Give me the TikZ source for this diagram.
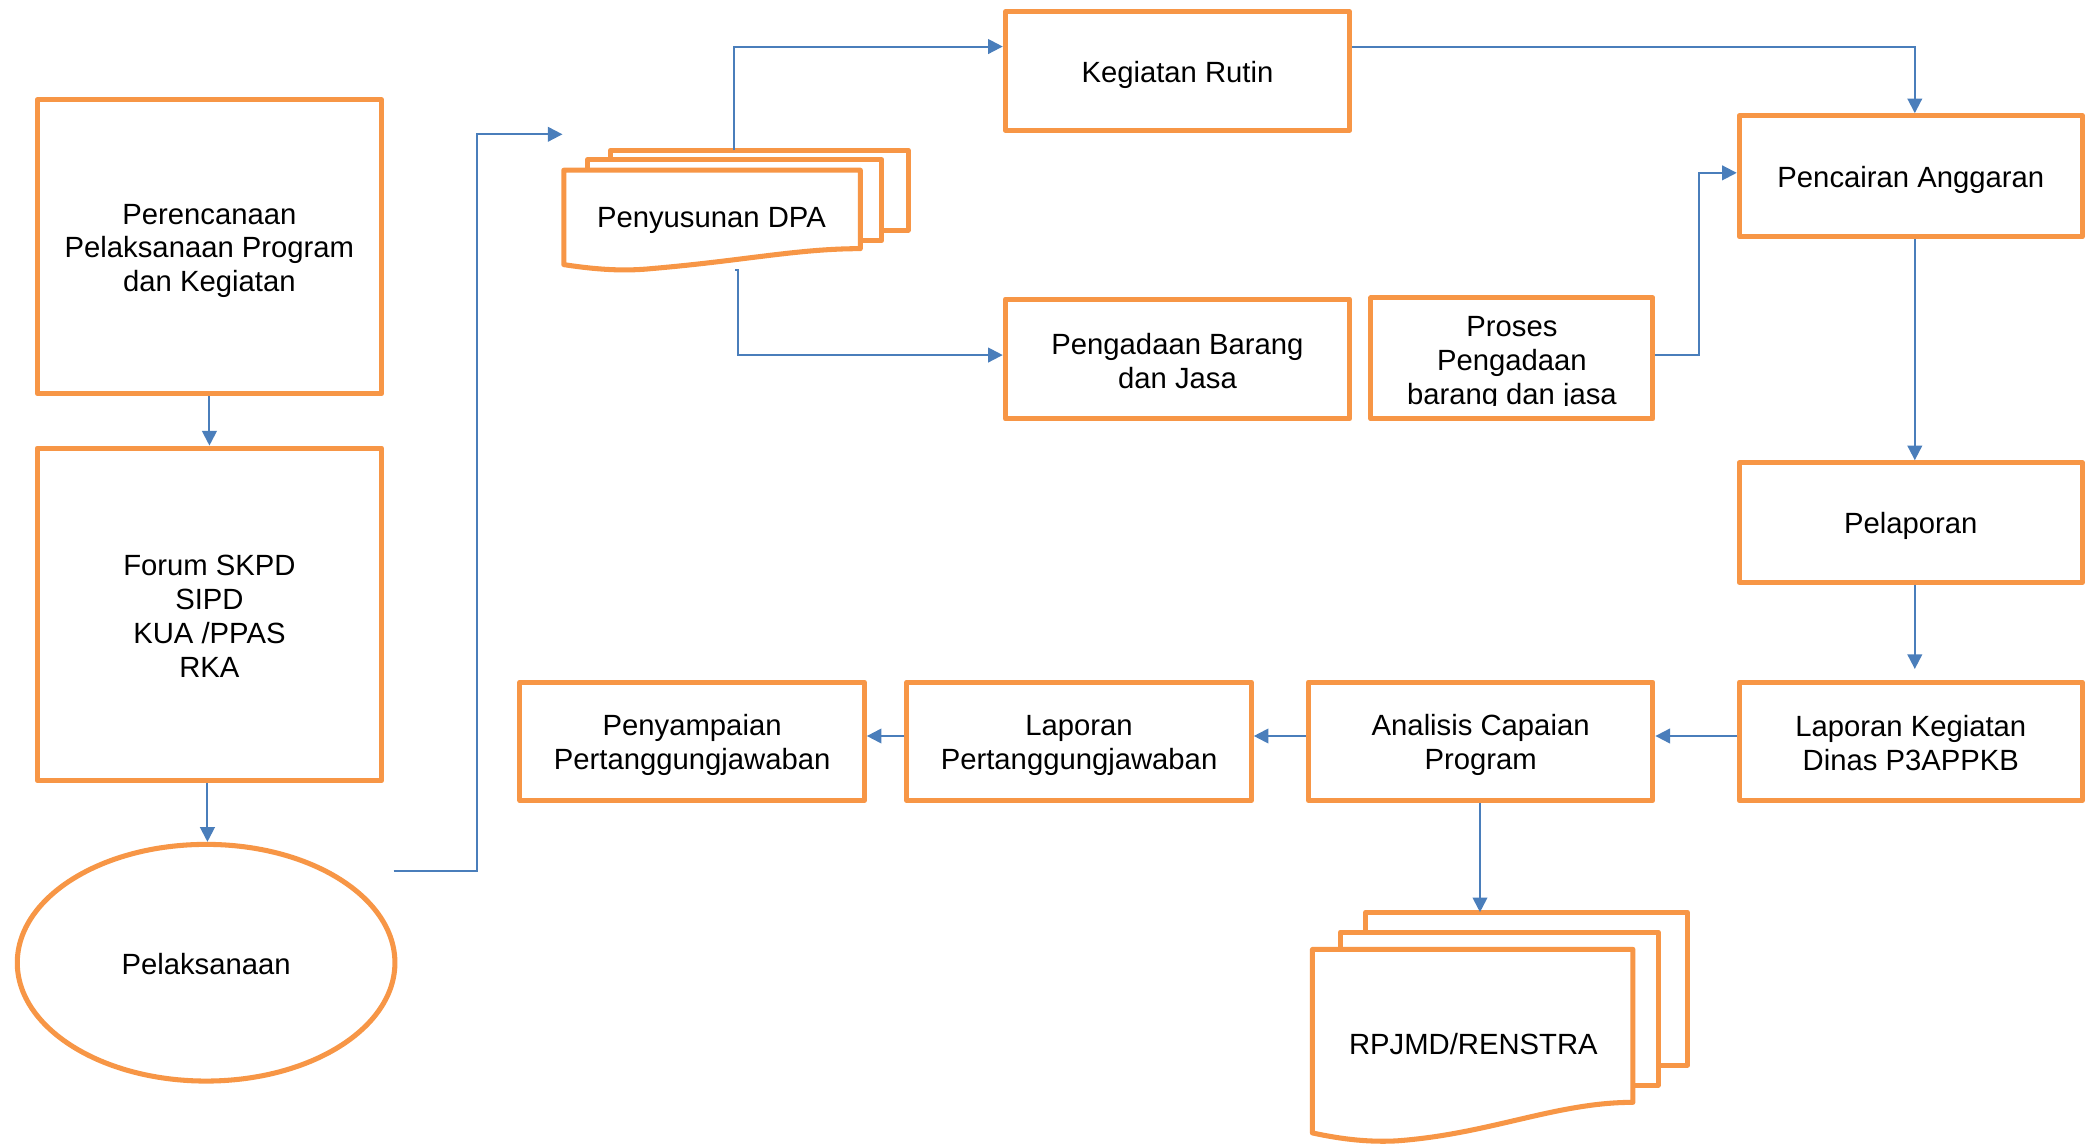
\documentclass[tikz,border=0pt]{standalone}
\usepackage{fontspec}
\setmainfont{Liberation Sans}
\usetikzlibrary{arrows.meta,shapes.geometric}
\definecolor{orng}{HTML}{F79646}
\definecolor{blu}{HTML}{4A7EBB}
\begin{document}
\begin{tikzpicture}[x=0.5pt,y=-0.5pt,
  txt/.style={align=center,font=\fontsize{11}{12.75}\selectfont,inner sep=0pt},
  box/.style={draw=orng,line width=1.9pt,fill=white,rectangle,line join=round,inner sep=0pt},
  sheet/.style={draw=orng,line width=1.9pt,fill=white,line join=round},
  conn/.style={draw=blu,line width=0.75pt},
  arr/.style={conn,-{Triangle[length=5.5pt,width=5.5pt]}}]
\useasboundingbox (0,0) rectangle (1568,861);
% left column
\node[box,minimum width=129.5pt,minimum height=110.5pt] (perenc) at (157.5,185.5) {};
\node[txt] (perenctxt) at ([yshift=-1.6pt]perenc.center) {Perencanaan\\Pelaksanaan Program\\dan Kegiatan};
\node[box,minimum width=129.5pt,minimum height=125pt] (forum) at (157.5,462) {};
\node[txt] (forumtxt) at ([yshift=-0.8pt]forum.center) {Forum SKPD\\SIPD\\KUA /PPAS\\RKA};
\node[box,ellipse,minimum width=142pt,minimum height=89pt] (pel) at (155,724) {};
\node[txt] (peltxt) at ([yshift=-0.5pt]pel.center) {Pelaksanaan};
% top row
\node[box,minimum width=129.5pt,minimum height=44.5pt] (keg) at (885.5,53.5) {};
\node[txt] (kegtxt) at ([yshift=-1.4pt]keg.center) {Kegiatan Rutin};
\node[box,minimum width=129.5pt,minimum height=45pt] (peng) at (885.5,270) {};
\node[txt] (pengtxt) at ([yshift=-0.8pt]peng.center) {Pengadaan Barang\\dan Jasa};
\node[box,minimum width=106pt,minimum height=45.5pt] (proses) at (1137,269.5) {};
\begin{scope}
\clip (1031,224) rectangle (1243,305);
\node[txt] (prosestxt) at (1137,273.5) {Proses\\Pengadaan\\barang dan jasa};
\end{scope}
\node[box,minimum width=129pt,minimum height=45.5pt] (pencair) at (1437,132.5) {};
\node[txt] (pencairtxt) at ([yshift=-1.3pt]pencair.center) {Pencairan Anggaran};
\node[box,minimum width=129pt,minimum height=45pt] (pelap) at (1437,393) {};
\node[txt] (pelaptxt) at ([yshift=-1.1pt]pelap.center) {Pelaporan};
% bottom row
\node[box,minimum width=129pt,minimum height=44.5pt] (lapkeg) at (1437,557.5) {};
\node[txt] (lapkegtxt) at ([yshift=-0.6pt]lapkeg.center) {Laporan Kegiatan\\Dinas P3APPKB};
\node[box,minimum width=129.5pt,minimum height=44.5pt] (analisis) at (1113.5,557.5) {};
\node[txt] (analisistxt) at ([yshift=-1.4pt]analisis.center) {Analisis Capaian\\Program};
\node[box,minimum width=129.5pt,minimum height=44.5pt] (lappert) at (811.5,557.5) {};
\node[txt] (lapperttxt) at ([yshift=-1.4pt]lappert.center) {Laporan\\Pertanggungjawaban};
\node[box,minimum width=129.5pt,minimum height=44.5pt] (penyamp) at (520.5,557.5) {};
\node[txt] (penyamptxt) at ([yshift=-1.4pt]penyamp.center) {Penyampaian\\Pertanggungjawaban};
% DPA multi-document
\draw[sheet] (459,113) rectangle (683,173);
\draw[sheet] (442,120) rectangle (663,181);
\draw[sheet] (424,128) -- (647,128) -- (647,187)
  .. controls (600,187) and (560,196) .. (490,202)
  .. controls (470,204) and (450,203) .. (424,199) -- cycle;
\node[txt] (dpa) at (535,165.5) {Penyusunan DPA};
% RPJMD multi-document
\draw[sheet] (1027,686) rectangle (1269,801);
\draw[sheet] (1008,701) rectangle (1247,816);
\draw[sheet] (987,714) -- (1228,714) -- (1228,829)
  .. controls (1170,829) and (1120,853) .. (1050,858)
  .. controls (1030,859) and (1010,857) .. (987,852) -- cycle;
\node[txt] (rpjmd) at (1108,785) {RPJMD/RENSTRA};
% coordinates
\coordinate (elstart) at (296,655);
\coordinate (dpain) at (423,101);
\coordinate (dpatop) at (552,113);
\coordinate (dpabot) at (553,203);
\coordinate (rpjtop) at (1113,686);
% connectors
\draw[arr] (perenc.south) -- (forum.north);
\draw[arr] ([xshift=-0.75pt]forum.south) -- ([xshift=-0.75pt]forum.south |- pel.north);
\draw[arr] (elstart) -- ++(63,0) |- (dpain);
\draw[arr] (dpatop) |- ([yshift=9.25pt]keg.west);
\draw[arr] (dpabot) -- ++(2,0) |- ([yshift=1.5pt]peng.west);
\draw[arr] ([yshift=9.25pt]keg.east) -| ([xshift=1.5pt]pencair.north);
\draw[arr] ([yshift=1.25pt]proses.east) -- ++(33,0) |- ([yshift=1.25pt]pencair.west);
\draw[arr] ([xshift=1.5pt]pencair.south) -- ([xshift=1.5pt]pelap.north);
\draw[arr] ([xshift=1.5pt]pelap.south) -- ([xshift=1.5pt,yshift=4pt]lapkeg.north);
\draw[arr] ([yshift=2pt]lapkeg.west) -- ([yshift=2pt]analisis.east);
\draw[arr] ([yshift=2pt]analisis.west) -- ([yshift=2pt]lappert.east);
\draw[arr] ([yshift=2pt]lappert.west) -- ([yshift=2pt]penyamp.east);
\draw[arr] ([xshift=-0.25pt]analisis.south) -- (rpjtop);
\end{tikzpicture}
\end{document}
